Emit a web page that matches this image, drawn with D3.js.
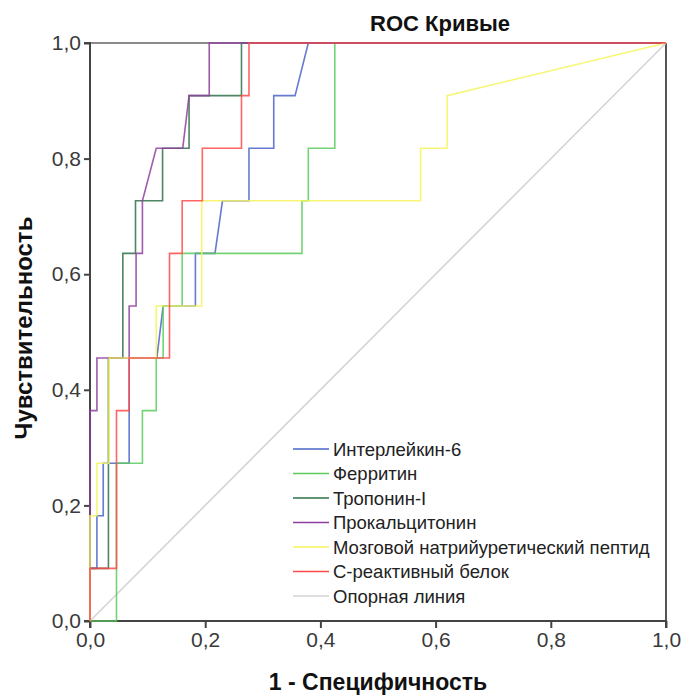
<!DOCTYPE html>
<html>
<head>
<meta charset="utf-8">
<script src="https://cdn.jsdelivr.net/npm/d3@7"></script>
<style>
  body { margin: 0; background: #fff; }
  svg text { font-family: "Liberation Sans", Arial, sans-serif; }
</style>
</head>
<body>
<script>

// ROC points, [1 - specificity, sensitivity]
var il6 = [[0,0],[0,0.091],[0.012,0.091],[0.012,0.182],[0.023,0.182],[0.023,0.273],[0.068,0.273],[0.068,0.455],[0.116,0.455],[0.127,0.545],[0.183,0.545],[0.183,0.636],[0.217,0.636],[0.230,0.727],[0.276,0.727],[0.276,0.818],[0.319,0.818],[0.319,0.909],[0.356,0.909],[0.379,1],[1,1]];
var ferritin = [[0,0],[0.046,0],[0.046,0.273],[0.091,0.273],[0.091,0.364],[0.115,0.364],[0.115,0.455],[0.127,0.455],[0.127,0.545],[0.160,0.545],[0.160,0.636],[0.368,0.636],[0.368,0.727],[0.379,0.727],[0.379,0.818],[0.425,0.818],[0.425,1],[1,1]];
var troponin = [[0,0],[0,0.091],[0.032,0.091],[0.032,0.455],[0.057,0.455],[0.057,0.636],[0.079,0.636],[0.079,0.727],[0.126,0.727],[0.126,0.818],[0.172,0.818],[0.172,0.909],[0.263,0.909],[0.263,1],[1,1]];
var pct = [[0,0],[0,0.364],[0.012,0.364],[0.012,0.455],[0.068,0.455],[0.068,0.545],[0.080,0.545],[0.080,0.636],[0.091,0.636],[0.091,0.727],[0.115,0.818],[0.161,0.818],[0.172,0.909],[0.207,0.909],[0.207,1],[1,1]];
var bnp = [[0,0],[0,0.182],[0.012,0.182],[0.012,0.273],[0.033,0.273],[0.033,0.455],[0.115,0.455],[0.115,0.545],[0.194,0.545],[0.194,0.727],[0.574,0.727],[0.574,0.818],[0.620,0.818],[0.620,0.909],[1,1]];
var crp = [[0,0],[0,0.091],[0.046,0.091],[0.046,0.364],[0.068,0.364],[0.068,0.455],[0.138,0.455],[0.138,0.636],[0.160,0.636],[0.160,0.727],[0.195,0.727],[0.195,0.818],[0.263,0.818],[0.263,0.909],[0.276,0.909],[0.276,1],[1,1]];
var refLine = [[0,0],[1,1]];

var names = ["Интерлейкин-6", "Ферритин", "Тропонин-I", "Прокальцитонин",
             "Мозговой натрийуретический пептид", "С-реактивный белок", "Опорная линия"];
var colors = ["#4a63c8", "#5ccb5c", "#2f7048", "#8e3f9e", "#f6f45c", "#ff4a4a", "#d4d4d4"];
var ticks = [0, 0.2, 0.4, 0.6, 0.8, 1.0];

var series = [il6, ferritin, troponin, pct, bnp, crp];

var size_graph = { x: 681, y: 696 };
var margin = {top: 43, right: 15, bottom: 75, left: 90},
    width  = size_graph.x - margin.left - margin.right,
    height = size_graph.y - margin.top - margin.bottom;

var x = d3.scaleLinear().domain([0, 1]).range([0, width]);
var y = d3.scaleLinear().domain([0, 1]).range([height, 0]);

var loc = d3.formatLocale({decimal: ",", thousands: " ", grouping: [3], currency: ["", ""]});
var f = loc.format(".1f");

var svg = d3.select("body").append("svg")
    .attr("width", size_graph.x)
    .attr("height", size_graph.y);

var g = svg.append("g")
    .attr("transform", `translate(${margin.left},${margin.top})`);

// frame
g.append("line").attr("x1", 0).attr("x2", width).attr("y1", 0).attr("y2", 0)
    .attr("stroke", "#8a8a8a").attr("stroke-width", 2);
g.append("line").attr("x1", width).attr("x2", width).attr("y1", 0).attr("y2", height)
    .attr("stroke", "#555").attr("stroke-width", 2);

var xAxis = d3.axisBottom(x).tickValues(ticks).tickFormat(f).tickSize(7).tickPadding(4);
var yAxis = d3.axisLeft(y).tickValues(ticks).tickFormat(f).tickSize(6).tickPadding(3);

var gx = g.append("g").attr("transform", `translate(0,${height})`).call(xAxis);
var gy = g.append("g").call(yAxis);

[gx, gy].forEach(a => {
    a.select(".domain").attr("stroke", "#444").attr("stroke-width", 2);
    a.selectAll(".tick line").attr("stroke", "#444").attr("stroke-width", 2);
    a.selectAll(".tick text").attr("font-size", 21).attr("fill", "#3a3a3a")
        .style("font-family", "'Liberation Sans', Arial, sans-serif");
});
gy.select(".domain").attr("d", `M-6,${height}H0V0H-6`);
gx.select(".domain").attr("d", `M0,7V0H${width}V7`);

var line = d3.line().x(d => x(d[0])).y(d => y(d[1]));

// reference line first
g.append("path").datum(refLine)
    .attr("d", line)
    .attr("fill", "none")
    .attr("stroke", colors[6])
    .attr("stroke-width", 1.6);

series.forEach((s, i) => {
    g.append("path").datum(s)
        .attr("d", line)
        .attr("fill", "none")
        .attr("stroke", colors[i])
        .attr("stroke-opacity", 0.85)
        .attr("stroke-width", 1.6);
});

// legend
var leg = svg.append("g").attr("transform", "translate(293,449)");
names.forEach((n, i) => {
    var row = leg.append("g").attr("transform", `translate(0,${i * 24.5})`);
    row.append("line").attr("x1", 0).attr("x2", 36).attr("y1", 0).attr("y2", 0)
        .attr("stroke", colors[i]).attr("stroke-width", 1.6);
    row.append("text").attr("x", 40).attr("y", 6.5)
        .attr("font-size", 18.5).attr("fill", "#222").text(n);
});

// titles
svg.append("text").attr("x", 440).attr("y", 31)
    .attr("text-anchor", "middle").attr("font-size", 22).attr("font-weight", "bold")
    .attr("fill", "#111").text("ROC Кривые");

svg.append("text").attr("x", 378).attr("y", 690)
    .attr("text-anchor", "middle").attr("font-size", 23).attr("font-weight", "bold")
    .attr("fill", "#111").text("1 - Специфичность");

svg.append("text")
    .attr("transform", "translate(32,328) rotate(-90)")
    .attr("text-anchor", "middle").attr("font-size", 24).attr("font-weight", "bold")
    .attr("fill", "#111").text("Чувствительность");

</script>
</body>
</html>
